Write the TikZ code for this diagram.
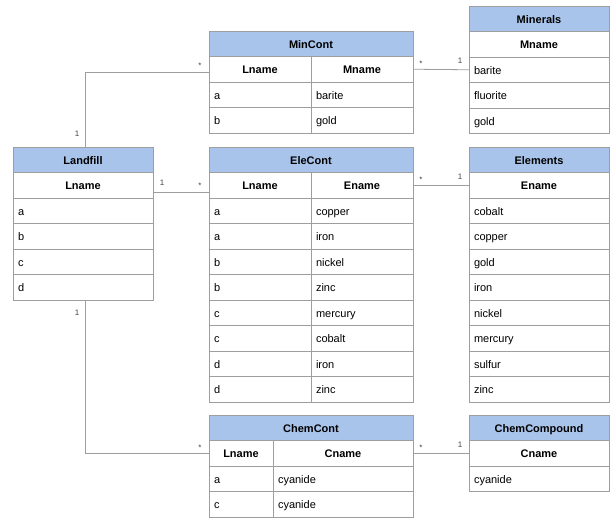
\documentclass[tikz,border=0pt]{standalone}
\usepackage{fontspec}
\setmainfont{Liberation Sans}
\usetikzlibrary{positioning}
\definecolor{hdrblue}{HTML}{A9C4EB}
\definecolor{boxgray}{HTML}{9E9E9E}
\definecolor{multgray}{HTML}{444444}

\begin{document}
\begin{tikzpicture}[x=1pt,y=-1pt,
    every node/.style={outer sep=0pt},
    tbl/.style={draw=boxgray,line width=0.8pt,minimum height=25.5pt,inner ysep=0pt,
      text height=9.5pt,text depth=1pt,font=\fontsize{11}{13}\selectfont},
    title/.style={tbl,fill=hdrblue,minimum width=#1,inner xsep=0pt,font=\fontsize{11}{13}\selectfont\bfseries},
    colhead/.style={tbl,minimum width=#1,inner xsep=0pt,font=\fontsize{11}{13}\selectfont\bfseries},
    cell/.style={tbl,text width=#1,inner xsep=5pt,align=left},
    mult/.style={font=\fontsize{8}{9}\selectfont,text=multgray,inner sep=0pt},
    rel/.style={draw=boxgray,line width=0.8pt}]
    \useasboundingbox (0,0) rectangle (613,517);

    % Landfill
    \node[title=140pt,anchor=north west] (lf) at (13,147) {Landfill};
    \node[colhead=140pt,below=0pt of lf] (lf-h) {Lname};
    \foreach \v [count=\i, remember=\i as \j (initially h)] in {a,b,c,d}
      \node[cell=130pt,below=0pt of lf-\j] (lf-\i) {\v};

    % MinCont
    \node[title=204pt,anchor=north west] (mc) at (209,31) {MinCont};
    \node[colhead=102pt,anchor=north west] (mc-h-l) at (mc.south west) {Lname};
    \node[colhead=102pt,right=0pt of mc-h-l] (mc-h-r) {Mname};
    \foreach \lname/\oname [count=\i, remember=\i as \j (initially h)] in {a/barite,b/gold} {
      \node[cell=92pt,below=0pt of mc-\j-l] (mc-\i-l) {\lname};
      \node[cell=92pt,below=0pt of mc-\j-r] (mc-\i-r) {\oname};
    }

    % Minerals
    \node[title=140pt,anchor=north west] (mi) at (469,6) {Minerals};
    \node[colhead=140pt,below=0pt of mi] (mi-h) {Mname};
    \foreach \v [count=\i, remember=\i as \j (initially h)] in {barite,fluorite,gold}
      \node[cell=130pt,below=0pt of mi-\j] (mi-\i) {\v};

    % EleCont
    \node[title=204pt,anchor=north west] (ec) at (209,147) {EleCont};
    \node[colhead=102pt,anchor=north west] (ec-h-l) at (ec.south west) {Lname};
    \node[colhead=102pt,right=0pt of ec-h-l] (ec-h-r) {Ename};
    \foreach \lname/\oname [count=\i, remember=\i as \j (initially h)] in
      {a/copper,a/iron,b/nickel,b/zinc,c/mercury,c/cobalt,d/iron,d/zinc} {
      \node[cell=92pt,below=0pt of ec-\j-l] (ec-\i-l) {\lname};
      \node[cell=92pt,below=0pt of ec-\j-r] (ec-\i-r) {\oname};
    }

    % Elements
    \node[title=140pt,anchor=north west] (el) at (469,147) {Elements};
    \node[colhead=140pt,below=0pt of el] (el-h) {Ename};
    \foreach \v [count=\i, remember=\i as \j (initially h)] in
      {cobalt,copper,gold,iron,nickel,mercury,sulfur,zinc}
      \node[cell=130pt,below=0pt of el-\j] (el-\i) {\v};

    % ChemCont
    \node[title=204pt,anchor=north west] (cc) at (209,415) {ChemCont};
    \node[colhead=64pt,anchor=north west] (cc-h-l) at (cc.south west) {Lname};
    \node[colhead=140pt,right=0pt of cc-h-l] (cc-h-r) {Cname};
    \foreach \lname/\oname [count=\i, remember=\i as \j (initially h)] in {a/cyanide,c/cyanide} {
      \node[cell=54pt,below=0pt of cc-\j-l] (cc-\i-l) {\lname};
      \node[cell=130pt,below=0pt of cc-\j-r] (cc-\i-r) {\oname};
    }

    % ChemCompound
    \node[title=140pt,anchor=north west] (cp) at (469,415) {ChemCompound};
    \node[colhead=140pt,below=0pt of cp] (cp-h) {Cname};
    \node[cell=130pt,below=0pt of cp-h] (cp-1) {cyanide};

    % relations
    \draw[rel] ([xshift=2pt]lf.north) |- ([yshift=-3pt]mc-h-l.west)
      node[mult,at start,xshift=-8pt,yshift=13pt] (m-lf-mc) {1}
      node[mult,at end,xshift=-9pt,yshift=7pt] (m-mc-lf) {*};
    \draw[rel] ([yshift=-7pt]lf-h.east) -- ([yshift=-7pt]ec-h-l.west)
      node[mult,at start,xshift=9pt,yshift=10pt] (m-lf-ec) {1}
      node[mult,at end,xshift=-9pt,yshift=7pt] (m-ec-lf) {*};
    \draw[rel] ([xshift=2pt]lf-4.south) |- (cc-h-l.west)
      node[mult,at start,xshift=-8pt,yshift=-13pt] (m-lf-cc) {1}
      node[mult,at end,xshift=-9pt,yshift=6pt] (m-cc-lf) {*};
    \draw[rel] (mc-h-r.east) -- (mi-1.west)
      node[mult,at start,xshift=8pt,yshift=6pt] (m-mc-mi) {*}
      node[mult,at end,xshift=-9pt,yshift=9pt] (m-mi-mc) {1};
    \draw[rel] (ec-h-r.east) -- (el-h.west)
      node[mult,at start,xshift=8pt,yshift=6pt] (m-ec-el) {*}
      node[mult,at end,xshift=-9pt,yshift=9pt] (m-el-ec) {1};
    \draw[rel] (cc-h-r.east) -- (cp-h.west)
      node[mult,at start,xshift=8pt,yshift=6pt] (m-cc-cp) {*}
      node[mult,at end,xshift=-9pt,yshift=9pt] (m-cp-cc) {1};
\end{tikzpicture}
\end{document}
